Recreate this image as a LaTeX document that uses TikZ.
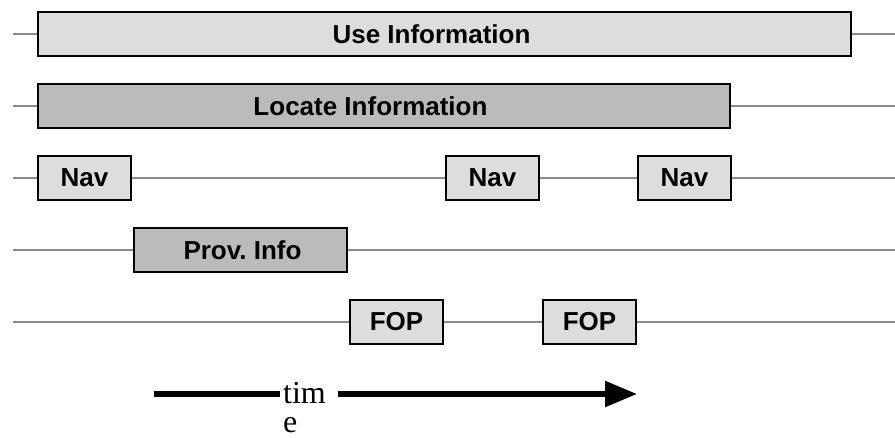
\documentclass[tikz,border=0pt]{standalone}
\usepackage{fontspec}
\setmainfont{Liberation Serif}
\newfontfamily\labfont{Liberation Sans}
\usetikzlibrary{arrows.meta}
\definecolor{boxlight}{HTML}{DDDDDD}
\definecolor{boxdark}{HTML}{BBBBBB}
\definecolor{linegray}{HTML}{8A8A8A}
\frenchspacing
\begin{document}
\begin{tikzpicture}[x=1pt,y=-1pt,
  activity/.style={draw=black,line width=2pt,fill=boxlight,rectangle,inner sep=0pt,
    minimum height=44pt,font=\labfont\bfseries\fontsize{26}{28}\selectfont},
  darkact/.style={activity,fill=boxdark},
  track/.style={draw=linegray,line width=2pt}]
\useasboundingbox (0,0) rectangle (895,438);
% boxes
\node[activity,minimum width=813pt] (use) at (444.5,34) {\hbox{Use Information\kern26pt}};
\node[darkact,minimum width=692pt] (loc) at (384,106) {\hbox{Locate Information\kern27pt}};
\node[activity,minimum width=93pt] (nav1) at (84.5,178) {Nav};
\node[activity,minimum width=93pt] (nav2) at (492.5,178) {Nav};
\node[activity,minimum width=93pt] (nav3) at (684.5,178) {Nav};
\node[darkact,minimum width=213pt] (prov) at (240.5,250) {\hbox{Prov.\ Info\kern-4pt}};
\node[activity,minimum width=93pt] (fop1) at (396.5,322) {FOP};
\node[activity,minimum width=93pt] (fop2) at (589.5,322) {FOP};
% track ends
\coordinate (l1) at (13,34);  \coordinate (r1) at (895,34);
\coordinate (l2) at (13,106); \coordinate (r2) at (895,106);
\coordinate (l3) at (13,178); \coordinate (r3) at (895,178);
\coordinate (l4) at (13,250); \coordinate (r4) at (895,250);
\coordinate (l5) at (13,322); \coordinate (r5) at (895,322);
% tracks
\draw[track] (l1) -- (use.west) (use.east) -- (r1);
\draw[track] (l2) -- (loc.west) (loc.east) -- (r2);
\draw[track] (l3) -- (nav1.west) (nav1.east) -- (nav2.west) (nav2.east) -- (nav3.west) (nav3.east) -- (r3);
\draw[track] (l4) -- (prov.west) (prov.east) -- (r4);
\draw[track] (l5) -- (fop1.west) (fop1.east) -- (fop2.west) (fop2.east) -- (r5);
% time arrow
\node[inner sep=0pt,anchor=north west,align=left,font=\fontsize{32}{29.5}\selectfont] (time) at (283,382) {tim\\e};
\coordinate (ts) at (154,394);
\coordinate (tl) at (280,394);
\coordinate (tr) at (338,394);
\coordinate (te) at (637,394);
\draw[line width=5.5pt] (ts) -- (tl);
\draw[line width=5.5pt,-{Triangle[length=32pt,width=25pt]}] (tr) -- (te);
\end{tikzpicture}
\end{document}
